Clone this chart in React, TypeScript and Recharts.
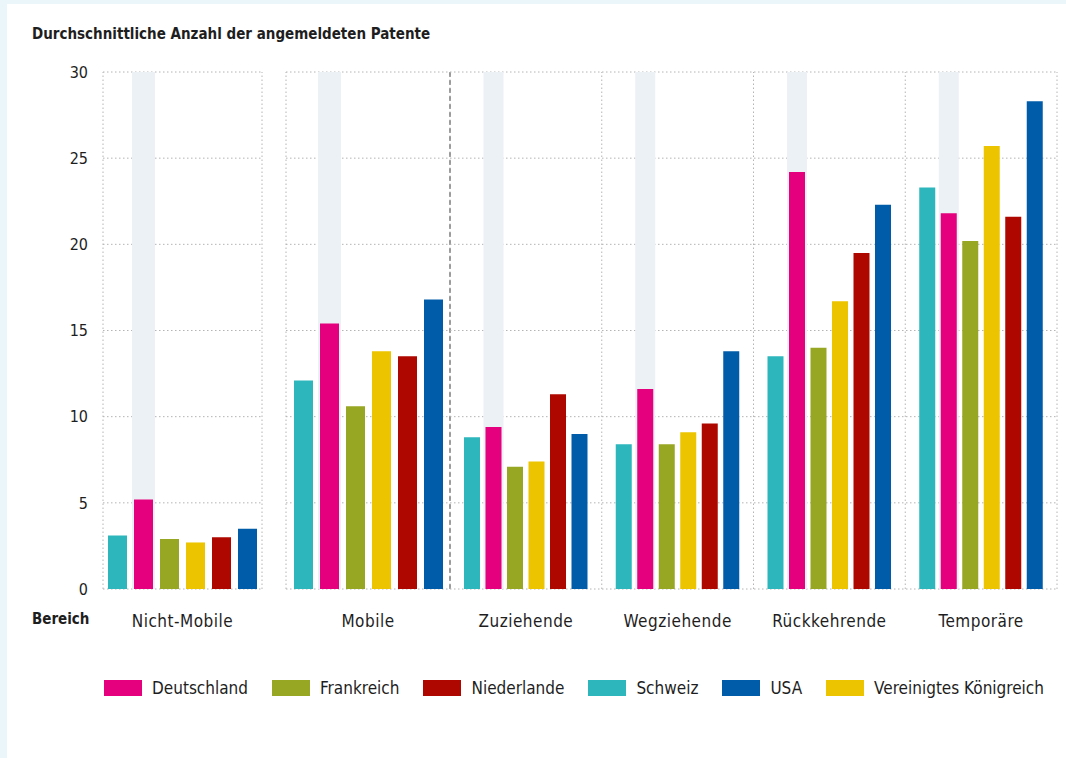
import React from "react"
import { Bar, BarChart, CartesianGrid, XAxis, YAxis, ReferenceLine } from "recharts"

const FONT = "'DejaVu Sans Condensed', 'DejaVu Sans', sans-serif"

const categories = ["Nicht-Mobile", "Mobile", "Zuziehende", "Wegziehende", "Rückkehrende", "Temporäre"]
const schweiz = [3.1, 12.1, 8.8, 8.4, 13.5, 23.3]
const deutschland = [5.2, 15.4, 9.4, 11.6, 24.2, 21.8]
const frankreich = [2.9, 10.6, 7.1, 8.4, 14.0, 20.2]
const vereinigtesKoenigreich = [2.7, 13.8, 7.4, 9.1, 16.7, 25.7]
const niederlande = [3.0, 13.5, 11.3, 9.6, 19.5, 21.6]
const usa = [3.5, 16.8, 9.0, 13.8, 22.3, 28.3]
const yTicks = [0, 5, 10, 15, 20, 25, 30]

const colors = {
  schweiz: "#2db7bc",
  deutschland: "#e5007d",
  frankreich: "#98a723",
  vk: "#ecc500",
  niederlande: "#ae0700",
  usa: "#005ca8",
}

// bar order inside each group
const series = [
  { key: "schweiz", name: "Schweiz", color: colors.schweiz },
  { key: "deutschland", name: "Deutschland", color: colors.deutschland },
  { key: "frankreich", name: "Frankreich", color: colors.frankreich },
  { key: "vk", name: "Vereinigtes Königreich", color: colors.vk },
  { key: "niederlande", name: "Niederlande", color: colors.niederlande },
  { key: "usa", name: "USA", color: colors.usa },
]

// legend order
const legendItems = [
  { name: "Deutschland", color: colors.deutschland },
  { name: "Frankreich", color: colors.frankreich },
  { name: "Niederlande", color: colors.niederlande },
  { name: "Schweiz", color: colors.schweiz },
  { name: "USA", color: colors.usa },
  { name: "Vereinigtes Königreich", color: colors.vk },
]

const data = categories.map((cat, i) => ({
  cat,
  schweiz: schweiz[i],
  deutschland: deutschland[i],
  frankreich: frankreich[i],
  vk: vereinigtesKoenigreich[i],
  niederlande: niederlande[i],
  usa: usa[i],
}))

const GRID = "#b4b4b4"
const margin = { top: 10, right: 2, bottom: 0, left: 2 }
const H = 577

const band = (props: any) => (
  <rect x={props.x - 2} y={props.y} width={props.width + 4} height={props.height} fill="#ecf1f5" />
)

function Panel({ rows, width, left, barSize, barGap, showY, dashedEnd }: any) {
  return (
    <div style={{ position: "absolute", left, top: 62 }}>
      <BarChart width={width} height={H} data={rows} margin={margin} barSize={barSize} barGap={barGap}>
        <CartesianGrid vertical={false} stroke={GRID} strokeDasharray="1.5 2.5" />
        <XAxis
          dataKey="cat"
          axisLine={false}
          tickLine={false}
          interval={0}
          height={50}
          tickMargin={20}
          tick={{ fill: "#1e1e1e", fontSize: 17, fontFamily: FONT, letterSpacing: 0.5 }}
        />
        <YAxis
          hide={!showY}
          width={101}
          domain={[0, 30]}
          ticks={yTicks}
          axisLine={false}
          tickLine={false}
          tickSize={0}
          tickMargin={15}
          tick={{ fill: "#1e1e1e", fontSize: 16, fontFamily: FONT }}
        />
        <ReferenceLine x={rows[0].cat} position="start" stroke={GRID} strokeDasharray="1.5 2.5" ifOverflow="visible" />
        {rows.map((r: any, i: number) =>
          dashedEnd && i === rows.length - 1 ? (
            <ReferenceLine key={r.cat} x={r.cat} position="end" stroke="#7a7a7a" strokeWidth={1.5} strokeDasharray="5 3" ifOverflow="visible" />
          ) : (
            <ReferenceLine key={r.cat} x={r.cat} position="end" stroke={GRID} strokeDasharray="1.5 2.5" ifOverflow="visible" />
          )
        )}
        {series.map((s) => (
          <Bar
            key={s.key}
            dataKey={s.key}
            name={s.name}
            fill={s.color}
            isAnimationActive={false}
            background={s.key === "deutschland" ? band : undefined}
          />
        ))}
      </BarChart>
    </div>
  )
}

export default function App() {
  return (
    <div
      style={{
        position: "absolute",
        left: 0,
        top: 0,
        width: 1066,
        height: 758,
        background: "#ebf6fb",
        fontFamily: FONT,
        color: "#1e1e1e",
        overflow: "hidden",
      }}
    >
      <div style={{ position: "absolute", left: 7, top: 4, right: 0, bottom: 0, background: "#fff" }} />
      <div style={{ position: "absolute", left: 32, top: 25, fontSize: 15, fontWeight: "bold" }}>
        Durchschnittliche Anzahl der angemeldeten Patente
      </div>
      <Panel rows={data.slice(0, 1)} width={264} left={0} barSize={19} barGap={7} showY />
      <Panel rows={data.slice(1, 2)} width={168} left={284} barSize={19} barGap={7} dashedEnd />
      <Panel rows={data.slice(2)} width={611} left={448} barSize={16} barGap={5.5} />
      <div style={{ position: "absolute", left: 32, top: 610, fontSize: 15, fontWeight: "bold" }}>Bereich</div>
      <div
        style={{
          position: "absolute",
          left: 104,
          top: 678,
          width: 980,
          display: "flex",
          flexWrap: "nowrap",
          whiteSpace: "nowrap",
          alignItems: "center",
          fontSize: 17,
        }}
      >
        {legendItems.map((l) => (
          <div key={l.name} style={{ display: "flex", alignItems: "center", marginRight: 24, flexShrink: 0 }}>
            <span style={{ display: "inline-block", width: 38, height: 16, background: l.color, marginRight: 10 }} />
            <span>{l.name}</span>
          </div>
        ))}
      </div>
    </div>
  )
}
